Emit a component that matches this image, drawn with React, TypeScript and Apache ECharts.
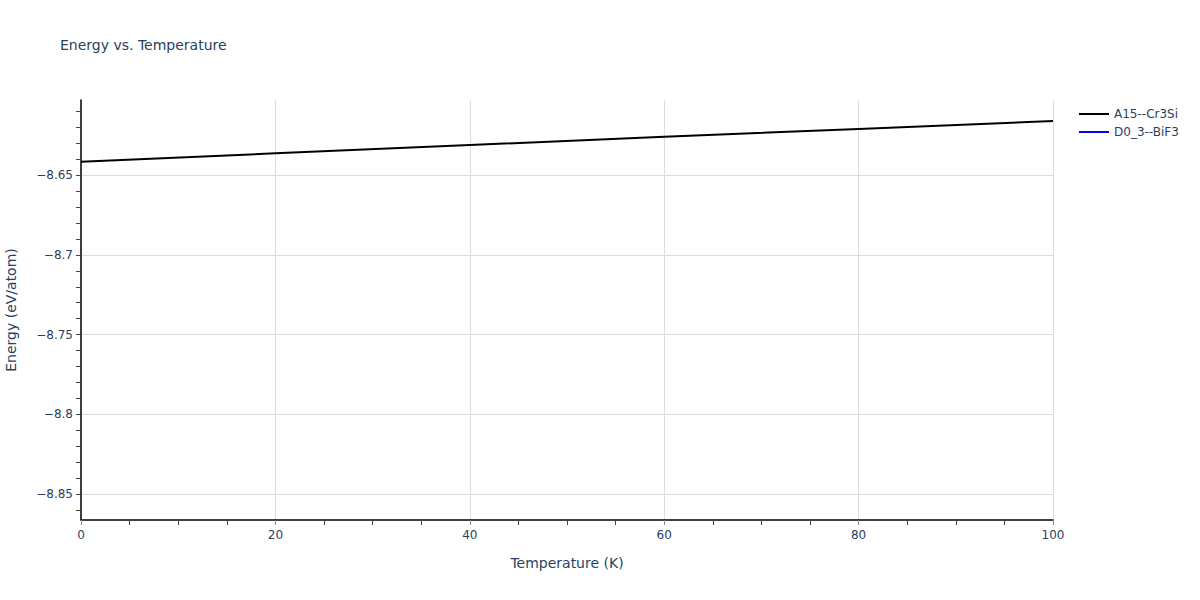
import React, { useEffect, useRef } from "react";
import * as echarts from "echarts";

const temperatures = [0, 20, 40, 60, 80, 100];
const energyA15 = [-8.6417, -8.6364, -8.6312, -8.626, -8.6212, -8.6162];
const energyD03: number[] = [];
const seriesNames = ["A15--Cr3Si", "D0_3--BiF3"];
const yMajorTicks = [-8.85, -8.8, -8.75, -8.7, -8.65];
const yMinorTicks = [-8.86, -8.85, -8.84, -8.83, -8.82, -8.81, -8.8, -8.79, -8.78, -8.77, -8.76, -8.75, -8.74, -8.73, -8.72, -8.71, -8.7, -8.69, -8.68, -8.67, -8.66, -8.65, -8.64, -8.63, -8.62, -8.61];
const yMin = -8.8661;
const yMax = -8.603;

const FONT = '"DejaVu Sans", Verdana, sans-serif';
const TXT = "#2a3f5f";

const fmtY = (v: number) => {
  const s = String(Number(v.toFixed(4)));
  return s.replace("-", "\u2212");
};

export default function App() {
  const ref = useRef<HTMLDivElement>(null);
  useEffect(() => {
    if (!ref.current) return;
    const chart = echarts.init(ref.current, null, { renderer: "svg" });
    chart.setOption({
      animation: false,
      backgroundColor: "#fff",
      textStyle: { fontFamily: FONT },
      title: {
        text: "Energy vs. Temperature",
        left: 60,
        top: 38,
        padding: 0,
        textStyle: { fontFamily: FONT, fontSize: 14, fontWeight: "normal", color: TXT },
      },
      legend: {
        orient: "vertical",
        left: 1079,
        top: 107,
        padding: 0,
        itemGap: 4,
        itemWidth: 30,
        itemHeight: 2,
        icon: "rect",
        textStyle: { fontFamily: FONT, fontSize: 12, color: TXT, lineHeight: 14 },
        data: seriesNames,
      },
      grid: { left: 81, right: 147, top: 100, bottom: 80, containLabel: false, outerBoundsMode: "none" },
      xAxis: {
        type: "value",
        min: 0,
        max: 100,
        interval: 20,
        name: "Temperature (K)",
        nameLocation: "middle",
        nameGap: 36,
        nameTextStyle: { fontFamily: FONT, fontSize: 14, color: TXT },
        axisLine: { show: true, onZero: false, lineStyle: { color: "#000", width: 1.5 } },
        axisTick: { show: true, length: 5, lineStyle: { color: "#888" } },
        minorTick: { show: true, splitNumber: 4, length: 5, lineStyle: { color: "#444" } },
        axisLabel: { fontFamily: FONT, fontSize: 12, color: TXT, margin: 9 },
        splitLine: { show: true, lineStyle: { color: "#dcdcdc", width: 1 } },
      },
      yAxis: [
        {
          type: "value",
          min: yMin,
          max: yMax,
          name: "Energy (eV/atom)",
          nameLocation: "middle",
          nameGap: 63,
          nameTextStyle: { fontFamily: FONT, fontSize: 14, color: TXT },
          axisLine: { show: true, onZero: false, lineStyle: { color: "#000", width: 1.5 } },
          axisTick: { show: false, customValues: yMajorTicks },
          axisLabel: {
            customValues: yMajorTicks,
            fontFamily: FONT,
            fontSize: 12,
            color: TXT,
            margin: 8,
            formatter: (v: number) => fmtY(v),
          },
          splitLine: { show: true, lineStyle: { color: "#dcdcdc", width: 1 } },
        },
        {
          type: "value",
          min: yMin,
          max: yMax,
          position: "left",
          axisLine: { show: false, onZero: false },
          axisTick: { show: true, customValues: yMinorTicks, length: 5, lineStyle: { color: "#444" } },
          axisLabel: { show: false },
          splitLine: { show: false },
        },
      ],
      series: [
        {
          name: seriesNames[0],
          type: "line",
          yAxisIndex: 0,
          data: temperatures.map((t, i) => [t, energyA15[i]]),
          symbol: "none",
          lineStyle: { color: "#000", width: 2 },
          itemStyle: { color: "#000" },
        },
        {
          name: seriesNames[1],
          type: "line",
          yAxisIndex: 0,
          data: energyD03,
          symbol: "none",
          lineStyle: { color: "#0000ff", width: 2 },
          itemStyle: { color: "#0000ff" },
        },
      ],
    });
    return () => chart.dispose();
  }, []);
  return <div ref={ref} style={{ position: "fixed", left: 0, top: 0, width: 1200, height: 600 }} />;
}
